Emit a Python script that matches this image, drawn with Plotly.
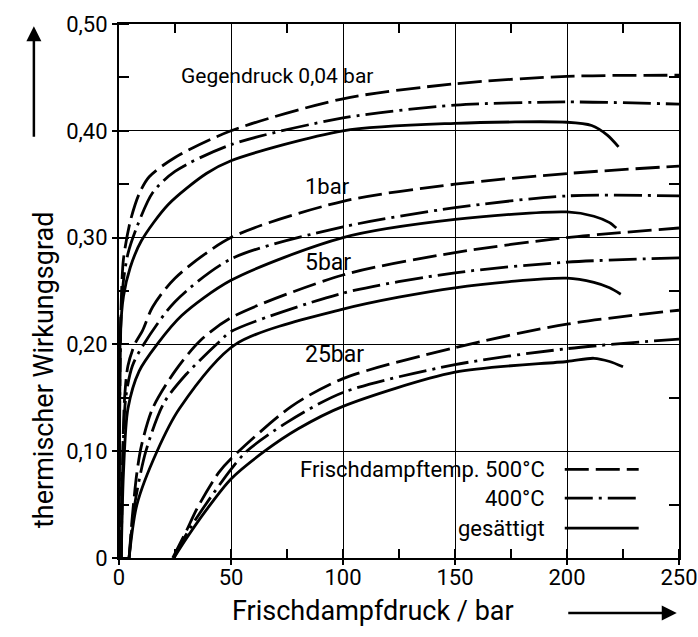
import plotly.graph_objects as go

# Frischdampfdruck (bar) / thermischer Wirkungsgrad
# Gegendruck 0,04 bar
p004_500 = [0.04, 0.3, 1, 2, 5, 9, 13.5, 25, 50, 100, 150, 200, 250]
e004_500 = [0, 0.15, 0.24, 0.28, 0.315, 0.341, 0.357, 0.375, 0.40, 0.43, 0.444, 0.451, 0.452]
p004_400 = [0.04, 0.3, 1, 2, 4, 8, 15, 25, 50, 100, 150, 200, 250]
e004_400 = [0, 0.14, 0.23, 0.26, 0.285, 0.31, 0.342, 0.362, 0.387, 0.412, 0.424, 0.427, 0.425]
p004_sat = [0.04, 0.3, 0.6, 2, 5, 10, 22, 39, 50, 100, 150, 200, 211, 218, 223]
e004_sat = [0, 0.13, 0.21, 0.245, 0.272, 0.297, 0.331, 0.36, 0.372, 0.40, 0.407, 0.408, 0.405, 0.396, 0.385]

# Gegendruck 1 bar
p1_500 = [1, 1.5, 2.5, 4, 7, 10.5, 15, 25, 50, 100, 150, 200, 250]
e1_500 = [0, 0.08, 0.15, 0.18, 0.2, 0.213, 0.235, 0.262, 0.30, 0.334, 0.35, 0.36, 0.367]
p1_400 = [1, 1.6, 3, 6, 11, 25, 50, 100, 150, 200, 250]
e1_400 = [0, 0.08, 0.15, 0.18, 0.2, 0.24, 0.28, 0.31, 0.328, 0.339, 0.339]
p1_sat = [1, 2, 4, 9, 17, 28, 50, 100, 150, 200, 212, 219, 222]
e1_sat = [0, 0.08, 0.14, 0.175, 0.2, 0.227, 0.26, 0.30, 0.317, 0.324, 0.32, 0.314, 0.309]

# Gegendruck 5 bar
p5_500 = [4.5, 6, 8, 10, 15, 25, 36, 50, 100, 150, 200, 250]
e5_500 = [0, 0.04, 0.08, 0.105, 0.14, 0.175, 0.203, 0.225, 0.265, 0.286, 0.30, 0.309]
p5_400 = [4.5, 7, 12, 20, 30, 45, 50, 100, 150, 200, 250]
e5_400 = [0, 0.05, 0.1, 0.145, 0.172, 0.203, 0.212, 0.248, 0.267, 0.277, 0.281]
p5_sat = [4.5, 8, 17, 27, 52, 100, 150, 200, 212, 219, 224]
e5_sat = [0, 0.05, 0.1, 0.14, 0.2, 0.233, 0.253, 0.262, 0.258, 0.253, 0.247]

# Gegendruck 25 bar
p25_500 = [24, 30, 35, 44.5, 50, 77, 100, 150, 200, 250]
e25_500 = [0, 0.025, 0.047, 0.08, 0.093, 0.142, 0.168, 0.197, 0.219, 0.232]
p25_400 = [24.5, 30, 38, 50, 57, 75, 100, 150, 200, 250]
e25_400 = [0, 0.022, 0.048, 0.083, 0.1, 0.127, 0.155, 0.181, 0.196, 0.205]
p25_sat = [24.5, 30, 39, 50, 65, 80, 100, 150, 200, 212, 219, 225]
e25_sat = [0, 0.018, 0.045, 0.074, 0.1, 0.121, 0.142, 0.174, 0.184, 0.187, 0.184, 0.179]

x_ticks = [0, 50, 100, 150, 200, 250]
y_ticks = [0, 0.1, 0.2, 0.3, 0.4, 0.5]
y_ticktext = ["0", "0,10", "0,20", "0,30", "0,40", "0,50"]

FONT = "Roboto, Liberation Sans, sans-serif"
DASH = "24px,7px"
DASHDOT = "28px,6px,3px,6px"

styles = {"500": DASH, "400": DASHDOT, "sat": "solid"}

curves = [
    (p004_500, e004_500, "500"), (p004_400, e004_400, "400"), (p004_sat, e004_sat, "sat"),
    (p1_500, e1_500, "500"), (p1_400, e1_400, "400"), (p1_sat, e1_sat, "sat"),
    (p5_500, e5_500, "500"), (p5_400, e5_400, "400"), (p5_sat, e5_sat, "sat"),
    (p25_500, e25_500, "500"), (p25_400, e25_400, "400"), (p25_sat, e25_sat, "sat"),
]

fig = go.Figure()
for px, ey, kind in curves:
    fig.add_trace(go.Scatter(x=px, y=ey, mode="lines", showlegend=False,
                             line=dict(color="black", width=2.8, dash=styles[kind],
                                       shape="spline", smoothing=0.8)))

# hand-made legend: text on the left, line sample on the right
legend_rows = [("Frischdampftemp. 500°C", DASH, 0.083),
               ("400°C", DASHDOT, 0.056),
               ("gesättigt", "solid", 0.028)]
for label, dash, yy in legend_rows:
    fig.add_annotation(x=191, y=yy, text=label, showarrow=False,
                       xanchor="right", yanchor="middle",
                       font=dict(family=FONT, size=22, color="black"))
    fig.add_shape(type="line", x0=199, x1=232, y0=yy, y1=yy,
                  line=dict(color="black", width=2.8, dash=dash))

# curve labels
for text, yy, xx, fs in [("Gegendruck 0,04 bar", 0.451, 27, 21), ("1bar", 0.348, 82, 22),
                         ("5bar", 0.277, 82, 23), ("25bar", 0.191, 82, 23)]:
    fig.add_annotation(x=xx, y=yy, text=text, showarrow=False,
                       xanchor="left", yanchor="middle",
                       font=dict(family=FONT, size=fs, color="black"))

# axis titles with arrows
fig.add_annotation(xref="paper", yref="paper", x=-0.134, y=0.352,
                   xanchor="center", yanchor="middle",
                   text="thermischer Wirkungsgrad", textangle=-90, showarrow=False,
                   font=dict(family=FONT, size=27, color="black"))
fig.add_annotation(xref="paper", yref="paper", x=-0.152, y=0.996, text="",
                   showarrow=True, ax=0, ay=112, arrowhead=2, arrowsize=1.2,
                   arrowwidth=2.5, arrowcolor="black")
fig.add_annotation(xref="paper", yref="paper", x=0.454, y=-0.099,
                   xanchor="center", yanchor="middle",
                   text="Frischdampfdruck / bar", showarrow=False,
                   font=dict(family=FONT, size=27, color="black"))
fig.add_annotation(xref="paper", yref="paper", x=0.996, y=-0.103, text="",
                   showarrow=True, ax=-110, ay=0, arrowhead=2, arrowsize=1.2,
                   arrowwidth=2.5, arrowcolor="black")

axis_common = dict(showline=True, linecolor="black", linewidth=2, automargin=False,
                   showgrid=True, gridcolor="black", gridwidth=1.4, zeroline=False,
                   ticks="outside", ticklen=5, tickwidth=1.5, tickcolor="black",
                   ticklabeloverflow="allow",
                   tickfont=dict(family=FONT, size=22, color="black"))

fig.update_xaxes(range=[0, 250], tickvals=x_ticks, mirror=True, ticklabelstandoff=-6,
                 minor=dict(ticks="inside", dtick=25, tick0=0, ticklen=9,
                            tickwidth=1.5, tickcolor="black", showgrid=False),
                 **axis_common)
fig.update_yaxes(range=[0, 0.5], tickvals=y_ticks, ticktext=y_ticktext, mirror=True,
                 minor=dict(ticks="inside", dtick=0.05, tick0=0, ticklen=10,
                            tickwidth=1.5, tickcolor="black", showgrid=False),
                 **axis_common)

# minor ticks on top / right edges
fig.update_layout(
    xaxis2=dict(overlaying="x", side="top", matches="x", range=[0, 250],
                showticklabels=False, showgrid=False, zeroline=False,
                tickvals=[25, 75, 125, 175, 225], ticks="inside", ticklen=9,
                tickwidth=1.5, tickcolor="black"),
    yaxis2=dict(overlaying="y", side="right", matches="y", range=[0, 0.5],
                showticklabels=False, showgrid=False, zeroline=False,
                tickvals=[0.05, 0.15, 0.25, 0.35, 0.45], ticks="inside", ticklen=10,
                tickwidth=1.5, tickcolor="black"),
)
fig.add_trace(go.Scatter(x=[None], y=[None], xaxis="x2", yaxis="y2", showlegend=False))

fig.update_layout(
    width=698, height=637,
    margin=dict(l=119, r=19, t=24, b=79),
    plot_bgcolor="white", paper_bgcolor="white",
    showlegend=False,
)

# drop the page's default body margin so the figure fills the window exactly
fig.write_html("out.html", config={"displayModeBar": False},
               post_script="document.body.style.margin='0';"
                           "document.documentElement.style.overflow='hidden';")
